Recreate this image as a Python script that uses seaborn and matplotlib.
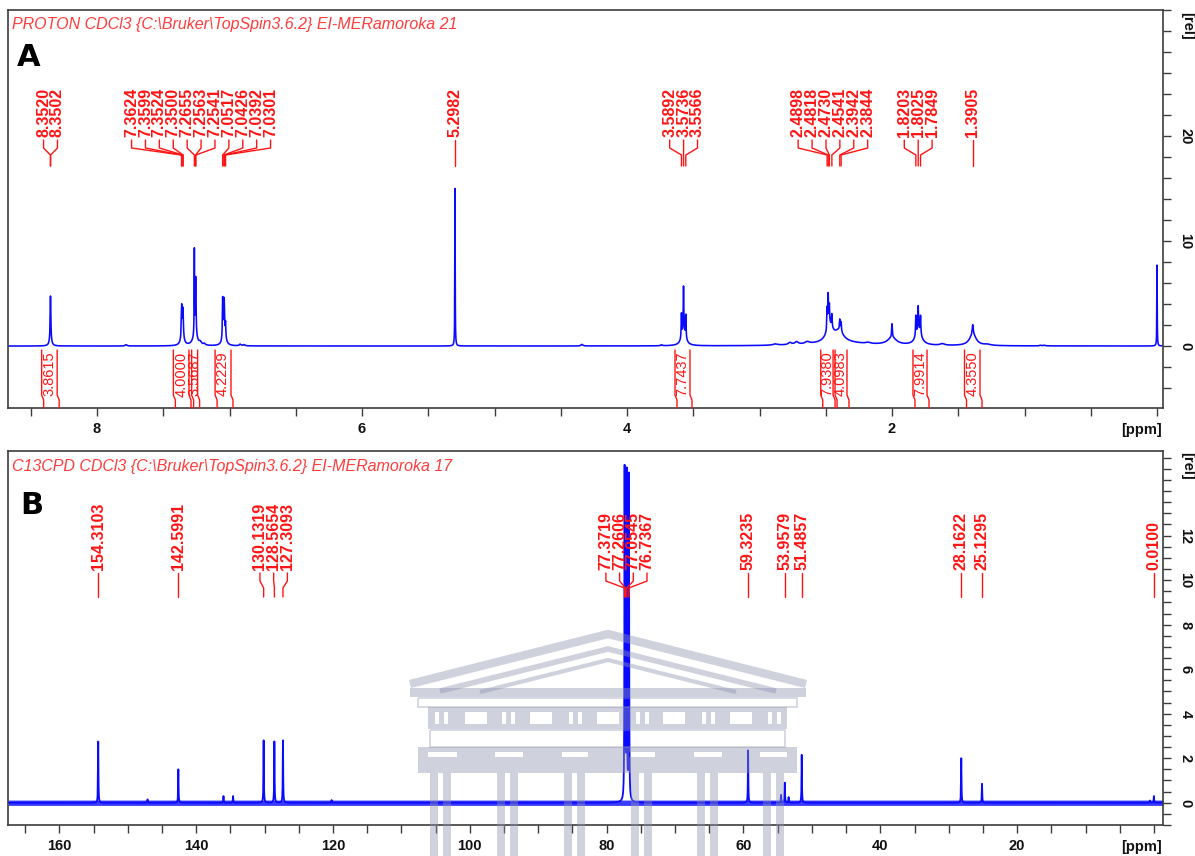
import numpy as np
import pandas as pd
import matplotlib
matplotlib.use("Agg")
import matplotlib.pyplot as plt
import seaborn as sns
from matplotlib import transforms
from matplotlib.patches import Rectangle
from matplotlib.lines import Line2D
from matplotlib.ticker import MultipleLocator, FuncFormatter

W, H = 1195, 856

# ---------------- 1H spectrum (panel A) ----------------
# picked peaks: shift (ppm), relative intensity, half width (ppm)
h_pick_ppm = [8.3520, 8.3502, 7.3624, 7.3599, 7.3524, 7.3500, 7.2655, 7.2563,
              7.2541, 7.0517, 7.0426, 7.0392, 7.0301, 5.2982, 3.5892, 3.5736,
              3.5566, 2.4898, 2.4818, 2.4730, 2.4541, 2.3942, 2.3844, 1.8203,
              1.8025, 1.7849, 1.3905]
h_pick_int = [2.4, 2.3, 1.6, 1.8, 1.5, 1.4, 8.0, 3.5,
              3.0, 3.8, 2.5, 2.2, 1.4, 15.0, 2.3, 4.4,
              2.2, 2.0, 3.0, 1.8, 1.2, 1.0, 0.9, 1.9,
              2.2, 1.7, 0.9]
h_pick_hw = [0.0025, 0.0025, 0.0025, 0.0025, 0.0025, 0.0025, 0.0015, 0.0025,
             0.0025, 0.0025, 0.0025, 0.0025, 0.0025, 0.0015, 0.0025, 0.0025,
             0.0025, 0.0025, 0.0025, 0.0025, 0.0025, 0.0030, 0.0030, 0.0025,
             0.0025, 0.0025, 0.0040]

# unpicked features: multiplet envelopes, broad signals, TMS, small impurities
h_other_ppm = [8.351, 7.356, 7.260, 7.040, 3.573, 2.470, 2.400, 2.400, 2.000,
               2.000, 1.800, 1.390, 7.780, 7.220, 7.190, 6.920, 6.890, 4.340,
               3.740, 2.880, 2.770, 2.720, 2.640, 2.180, 1.620, 1.280, 0.880,
               0.850, 0.000]
h_other_int = [0.6, 1.2, 1.0, 1.0, 1.2, 1.5, 1.0, 0.3, 1.3,
               0.7, 1.5, 1.1, 0.12, 0.25, 0.15, 0.15, 0.12, 0.15,
               0.10, 0.12, 0.20, 0.25, 0.20, 0.12, 0.15, 0.10, 0.06,
               0.06, 7.7]
h_other_hw = [0.010, 0.012, 0.020, 0.015, 0.020, 0.030, 0.040, 0.250, 0.003,
              0.040, 0.025, 0.030, 0.008, 0.010, 0.008, 0.008, 0.008, 0.008,
              0.006, 0.020, 0.015, 0.015, 0.020, 0.020, 0.020, 0.030, 0.008,
              0.008, 0.0015]

# integral regions (ppm) and their values
h_int_from = [8.418, 7.424, 7.286, 7.109, 3.638, 2.538, 2.430, 1.842, 1.453]
h_int_to = [8.301, 7.306, 7.241, 6.989, 3.525, 2.445, 2.340, 1.736, 1.336]
h_int_value = ["3.8615", "4.0000", "3.5687", "4.2229", "7.7437", "7.9380",
               "4.0983", "7.9914", "4.3550"]

# ---------------- 13C spectrum (panel B) ----------------
c_pick_ppm = [154.3103, 142.5991, 130.1319, 128.5654, 127.3093, 77.3719,
              77.2606, 77.0545, 76.7367, 59.3235, 53.9579, 51.4857, 28.1622,
              25.1295, 0.0100]
c_pick_int = [2.75, 1.5, 2.8, 2.75, 2.8, 14.6,
              4.0, 14.6, 14.6, 2.35, 0.9, 2.15, 2.0,
              0.85, 0.3]
c_other_ppm = [147.1, 136.0, 134.6, 120.2, 54.5, 53.4, 0.6]
c_other_int = [0.15, 0.3, 0.3, 0.12, 0.35, 0.25, 0.1]
c_hw = 0.035
c_noise = 0.12

h_title = "PROTON CDCl3 {C:\\Bruker\\TopSpin3.6.2} EI-MERamoroka 21"
c_title = "C13CPD CDCl3 {C:\\Bruker\\TopSpin3.6.2} EI-MERamoroka 17"

BLUE = "#0a0aff"
RED = "#ff1414"
FRAME = "#3c3c3c"

sns.set_theme(style="white")
plt.rcParams["font.family"] = ["Liberation Sans", "DejaVu Sans"]
plt.rcParams["font.weight"] = "bold"


def lineshape(grid, centers, heights, widths):
    c = np.asarray(centers, float)[None, :]
    h = np.asarray(heights, float)[None, :]
    w = np.asarray(widths, float)[None, :]
    return (h / (1.0 + ((grid[:, None] - c) / w) ** 2)).sum(axis=1)


def spread_labels(pos, gap):
    clusters = [[p] for p in pos]

    def place(c):
        m = float(np.mean(c))
        n = len(c)
        return [m + (i - (n - 1) / 2.0) * gap for i in range(n)]

    changed = True
    while changed:
        changed = False
        merged = [clusters[0]]
        for c in clusters[1:]:
            if place(c)[0] - place(merged[-1])[-1] < gap - 1e-9:
                merged[-1] = merged[-1] + c
                changed = True
            else:
                merged.append(c)
        clusters = merged
    return [x for c in clusters for x in place(c)]


fig = plt.figure(figsize=(W / 100, H / 100), dpi=100)
fig.patch.set_facecolor("white")
axA = fig.add_axes([8 / W, 1 - 408 / H, 1155 / W, 398 / H])
axB = fig.add_axes([8 / W, 1 - 825 / H, 1155 / W, 374 / H])

# ---- panel A spectrum
gA = np.union1d(np.linspace(-0.045, 8.672, 22000), h_pick_ppm + h_other_ppm)
sA = lineshape(gA, h_pick_ppm, h_pick_int, h_pick_hw) + \
    lineshape(gA, h_other_ppm, h_other_int, h_other_hw)
dfA = pd.DataFrame({"ppm": gA, "intensity": sA})
sns.lineplot(data=dfA, x="ppm", y="intensity", ax=axA, color=BLUE, lw=1.15,
             estimator=None, sort=False, zorder=2)
axA.set_xlim(8.672, -0.045)
axA.set_ylim(-5.9, 32.0)

# ---- panel B spectrum
gB = np.union1d(np.linspace(-1.32, 167.5, 42000), c_pick_ppm + c_other_ppm)
sB = lineshape(gB, c_pick_ppm, c_pick_int, [c_hw] * len(c_pick_ppm)) + \
    lineshape(gB, c_other_ppm, c_other_int, [c_hw] * len(c_other_ppm))
dfB = pd.DataFrame({"ppm": gB, "intensity": sB})
axB.fill_between(gB, -c_noise, c_noise, color=BLUE, lw=0, alpha=0.8, zorder=1)
sns.lineplot(data=dfB, x="ppm", y="intensity", ax=axB, color=BLUE, lw=1.3,
             estimator=None, sort=False, zorder=2)
axB.set_xlim(167.5, -1.32)
axB.set_ylim(-1.0, 15.8)


def fmt_x_A(v, p):
    r = round(v)
    return str(int(r)) if abs(v - r) < 1e-6 and r > 0.5 and int(r) % 2 == 0 else ""


def fmt_x_B(v, p):
    r = round(v / 20.0)
    return str(int(r * 20)) if abs(v / 20.0 - r) < 1e-6 and r > 0 else ""


def fmt_y_A(v, p):
    r = round(v / 10.0)
    return str(int(r * 10)) if abs(v / 10.0 - r) < 1e-6 and 0 <= r <= 2 else ""


def fmt_y_B(v, p):
    r = round(v / 2.0)
    return str(int(r * 2)) if abs(v / 2.0 - r) < 1e-6 and 0 <= r <= 6 else ""


for ax, xs, xf, ys, yf in ((axA, 0.5, fmt_x_A, 2, fmt_y_A),
                           (axB, 5, fmt_x_B, 0.5, fmt_y_B)):
    ax.set_xlabel("")
    ax.set_ylabel("")
    ax.grid(False)
    for s in ax.spines.values():
        s.set_color(FRAME)
        s.set_linewidth(1.2)
    ax.xaxis.set_major_locator(MultipleLocator(xs))
    ax.xaxis.set_major_formatter(FuncFormatter(xf))
    ax.yaxis.set_major_locator(MultipleLocator(ys))
    ax.yaxis.set_major_formatter(FuncFormatter(yf))
    ax.yaxis.tick_right()
    ax.tick_params(axis="both", which="both", direction="out", length=6,
                   width=1, colors=FRAME, labelcolor="#111111", labelsize=10.5)
    ax.tick_params(axis="x", pad=4, bottom=True)
    ax.tick_params(axis="y", labelrotation=-90, pad=5, right=True, left=False)


def yfrac(ax, ypx):
    b = ax.get_position()
    return ((1 - ypx / H) - b.y0) / b.height


def px_of(ax, ppm):
    return ax.transData.transform(np.column_stack([ppm, np.zeros(len(ppm))]))[:, 0]


def ppm_of(ax, px):
    inv = ax.transData.inverted()
    return inv.transform(np.column_stack([px, np.zeros(len(px))]))[:, 0]


def peak_labels(ax, ppms, ytxt, y1, y2, y3, y4, gap):
    blend = transforms.blended_transform_factory(ax.transData, ax.transAxes)
    ppms = np.asarray(ppms, float)
    px = px_of(ax, ppms)
    order = np.argsort(px)
    lx = np.array(spread_labels(list(px[order]), gap))
    lxd = ppm_of(ax, lx)
    pxd = ppms[order]
    yy = [yfrac(ax, v) for v in (y1, y2, y3, y4)]
    for a, b, v in zip(lxd, pxd, ppms[order]):
        ax.text(a, yfrac(ax, ytxt), f"{v:.4f}", rotation=90, ha="center",
                va="bottom", transform=blend, color=RED, fontsize=11.5,
                fontweight="bold", clip_on=False)
        ax.plot([a, a, b, b], yy, color=RED, lw=1.0, transform=blend,
                clip_on=False, zorder=3)


def integrals(ax, starts, ends, values):
    blend = transforms.blended_transform_factory(ax.transData, ax.transAxes)
    yy = [yfrac(ax, v) for v in (350, 395, 400, 408)]
    for s, e, v in zip(starts, ends, values):
        for xp in px_of(ax, [s, e]):
            xd = ppm_of(ax, [xp, xp, xp + 2, xp + 2])
            ax.plot(xd, yy, color=RED, lw=1.0, transform=blend, clip_on=False,
                    zorder=3)
        ax.text((s + e) / 2, yfrac(ax, 374), v, rotation=90, ha="center",
                va="center", transform=blend, color=RED, fontsize=10.5,
                fontweight="normal")


peak_labels(axA, h_pick_ppm, 137, 140, 148, 155, 166, 13.9)
integrals(axA, h_int_from, h_int_to, h_int_value)
peak_labels(axB, c_pick_ppm, 570, 573, 581, 588, 597, 13.7)


def ftext(x, y, s, **kw):
    fig.text(x / W, 1 - y / H, s, **kw)


ftext(12, 24, h_title, color="#ff3c3c", fontsize=11.5, fontstyle="italic",
      fontweight="normal", va="center", ha="left")
ftext(12, 466, c_title, color="#ff3c3c", fontsize=11.5, fontstyle="italic",
      fontweight="normal", va="center", ha="left")
ftext(17, 58, "A", color="black", fontsize=22, fontweight="bold",
      family="DejaVu Sans", va="center", ha="left")
ftext(20, 505, "B", color="black", fontsize=22, fontweight="bold",
      family="DejaVu Sans", va="center", ha="left")
for y in (430, 847):
    ftext(1142, y, "[ppm]", color="#111111", fontsize=10.5, fontweight="bold",
          va="center", ha="center")
for y in (26, 466):
    ftext(1187, y, "[rel]", color="#111111", fontsize=10.5, fontweight="bold",
          va="center", ha="center", rotation=-90)

# ---- faint building watermark over the lower panel
WM = "#8d92b0"
WA = 0.42


def fr(x0, y0, x1, y1):
    fig.add_artist(Rectangle((x0 / W, 1 - y1 / H), (x1 - x0) / W, (y1 - y0) / H,
                             transform=fig.transFigure, facecolor=WM,
                             edgecolor="none", alpha=WA, zorder=5))


def fl(xs, ys, lw):
    fig.add_artist(Line2D([x / W for x in xs], [1 - y / H for y in ys],
                          transform=fig.transFigure, color=WM, alpha=WA,
                          lw=lw, solid_capstyle="butt", zorder=5))


def band_with_slots(x0, x1, y0, y1, slots, sy0, sy1):
    fr(x0, y0, x1, sy0)
    fr(x0, sy1, x1, y1)
    edges = [x0] + [v for s in sorted(slots) for v in s] + [x1]
    for a, b in zip(edges[0::2], edges[1::2]):
        fr(a, sy0, b, sy1)


fl([410, 608, 806], [684, 634, 684], 6.0)
fl([440, 608, 776], [691, 649, 691], 4.0)
fl([480, 608, 736], [692, 660, 692], 3.0)
fr(410, 688, 806, 697)
fl([418, 797, 797, 418, 418], [698, 698, 707, 707, 698], 1.2)
frieze_slots = []
for x0 in (430, 497, 564, 631, 697, 763):
    frieze_slots += [(x0 + 5, x0 + 9), (x0 + 14, x0 + 18)]
for x0 in (465, 530, 597, 663, 730):
    frieze_slots.append((x0, x0 + 22))
band_with_slots(428, 787, 707, 729, frieze_slots, 712, 724)
fl([430, 785, 785, 430, 430], [730, 730, 747, 747, 730], 1.2)
cap_slots = [(428, 457), (495, 523), (562, 588), (629, 655), (694, 722), (760, 787)]
band_with_slots(418, 797, 747, 773, cap_slots, 752, 757)
for x0 in (430, 497, 564, 631, 697, 763):
    fr(x0, 773, x0 + 8, 856)
    fr(x0 + 13, 773, x0 + 21, 856)

fig.canvas.draw()
for ax in (axA, axB):
    for lbl in ax.get_yticklabels():
        lbl.set_va("center")
        lbl.set_rotation(-90)
        lbl.set_fontweight("bold")
    for lbl in ax.get_xticklabels():
        lbl.set_fontweight("bold")

fig.savefig("out.png", dpi=100, facecolor="white")
